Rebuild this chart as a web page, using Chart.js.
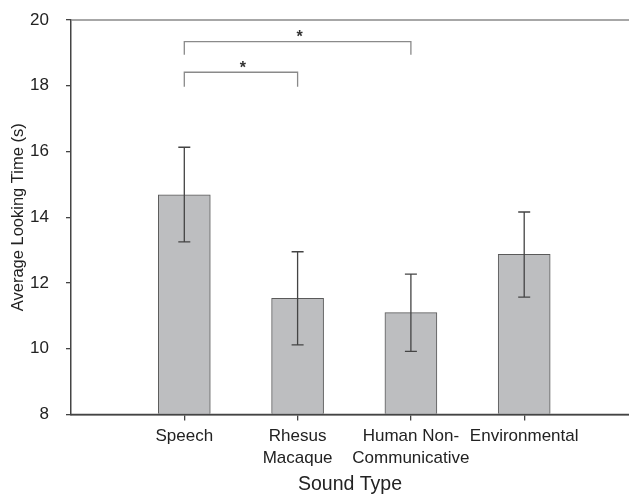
<!DOCTYPE html>
<html>
<head>
<meta charset="utf-8">
<script src="https://cdn.jsdelivr.net/npm/chart.js@4/dist/chart.umd.min.js"></script>
<style>
  html, body { margin: 0; padding: 0; background: #fff; }
  #wrap { width: 629px; height: 494px; }
</style>
</head>
<body>
<div id="wrap"><canvas id="myChart" width="629" height="494"></canvas></div>
<script>
// data
var categories = [['Speech'], ['Rhesus', 'Macaque'], ['Human Non-', 'Communicative'], ['Environmental']];
var means = [14.68, 11.53, 11.10, 12.87];
var errLow = [13.25, 10.12, 9.92, 11.57];
var errHigh = [16.13, 12.95, 12.27, 14.16];
var yTicks = [8, 10, 12, 14, 16, 18, 20];

// significance brackets: from bar, to bar, level, drop-to level
var bracketFrom = [1, 1];
var bracketTo = [3, 2];
var bracketTop = [19.34, 18.41];
var bracketFoot = [18.94, 17.97];
var bracketLabel = ['*', '*'];

var FONT = '"Liberation Sans", Arial, sans-serif';

var extras = {
    id: 'extras',
    afterDatasetsDraw: function(chart) {
        var ctx = chart.ctx;
        var xs = chart.scales.x, ys = chart.scales.y;
        var area = chart.chartArea;
        ctx.save();
        // top frame line
        ctx.strokeStyle = '#8a8a8a';
        ctx.lineWidth = 1.5;
        ctx.beginPath();
        ctx.moveTo(area.left, area.top);
        ctx.lineTo(area.right, area.top);
        ctx.stroke();
        // bottom axis line runs to the right edge
        ctx.strokeStyle = '#444';
        ctx.beginPath();
        ctx.moveTo(area.left, area.bottom);
        ctx.lineTo(area.right, area.bottom);
        ctx.stroke();

        // error bars
        ctx.strokeStyle = '#444';
        ctx.lineWidth = 1.3;
        means.forEach(function(m, i) {
            var x = xs.getPixelForValue(i + 1);
            var yl = ys.getPixelForValue(errLow[i]);
            var yh = ys.getPixelForValue(errHigh[i]);
            ctx.beginPath();
            ctx.moveTo(x, yl); ctx.lineTo(x, yh);
            ctx.moveTo(x - 6, yl); ctx.lineTo(x + 6, yl);
            ctx.moveTo(x - 6, yh); ctx.lineTo(x + 6, yh);
            ctx.stroke();
        });

        // brackets
        ctx.strokeStyle = '#8a8a8a';
        ctx.lineWidth = 1.3;
        ctx.fillStyle = '#333';
        ctx.font = 'bold 16px ' + FONT;
        ctx.textAlign = 'center';
        ctx.textBaseline = 'middle';
        bracketFrom.forEach(function(f, i) {
            var x1 = xs.getPixelForValue(f);
            var x2 = xs.getPixelForValue(bracketTo[i]);
            var yt = ys.getPixelForValue(bracketTop[i]);
            var yf = ys.getPixelForValue(bracketFoot[i]);
            ctx.beginPath();
            ctx.moveTo(x1, yf); ctx.lineTo(x1, yt); ctx.lineTo(x2, yt); ctx.lineTo(x2, yf);
            ctx.stroke();
            ctx.fillText(bracketLabel[i], (x1 + x2) / 2 + 2, yt - 4);
        });
        ctx.restore();
    }
};

var ctx = document.getElementById('myChart').getContext('2d');
var myChart = new Chart(ctx, {
    type: 'bar',
    data: {
        datasets: [{
            data: means.map(function(v, i) { return { x: i + 1, y: v }; }),
            backgroundColor: '#bdbec0',
            borderColor: '#5a5a5a',
            borderWidth: 1,
            barThickness: 52,
            base: 8
        }]
    },
    options: {
        responsive: false,
        animation: false,
        layout: { padding: { top: 20, right: 0, bottom: 0, left: 0 } },
        plugins: {
            legend: { display: false },
            tooltip: { enabled: false }
        },
        scales: {
            x: {
                type: 'linear',
                offset: false,
                min: 0,
                max: 4.925,
                afterBuildTicks: function(axis) {
                    axis.ticks = categories.map(function(c, i) { return { value: i + 1 }; });
                },
                afterFit: function(axis) {
                    axis.height = 79.5;
                    axis.paddingLeft = 0;
                    axis.paddingRight = 0;
                },
                ticks: {
                    callback: function(v) { return categories[v - 1]; },
                    color: '#222',
                    font: { family: FONT, size: 17, lineHeight: 1.3 },
                    padding: 5,
                    maxRotation: 0,
                    autoSkip: false
                },
                grid: { offset: false, drawOnChartArea: false, drawTicks: true, tickLength: 6, color: '#444', lineWidth: 1.3 },
                border: { color: '#444', width: 1.5 },
                title: {
                    display: true,
                    text: 'Sound Type',
                    color: '#222',
                    font: { family: FONT, size: 19.5, lineHeight: 1.0 },
                    padding: { top: 0, bottom: 0 }
                }
            },
            y: {
                min: 8,
                max: 20,
                afterBuildTicks: function(axis) {
                    axis.ticks = yTicks.map(function(v) { return { value: v }; });
                },
                afterFit: function(axis) {
                    axis.width = 71;
                    axis.paddingTop = 0;
                    axis.paddingBottom = 0;
                },
                ticks: {
                    color: '#222',
                    font: { family: FONT, size: 17 },
                    padding: 17
                },
                grid: { drawOnChartArea: false, drawTicks: true, tickLength: 5, color: '#444', lineWidth: 1.3 },
                border: { color: '#444', width: 1.5 },
                title: {
                    display: true,
                    text: 'Average Looking Time (s)',
                    color: '#222',
                    font: { family: FONT, size: 16.5 },
                    padding: { top: 9, bottom: 0 }
                }
            }
        }
    },
    plugins: [extras]
});
</script>
</body>
</html>
